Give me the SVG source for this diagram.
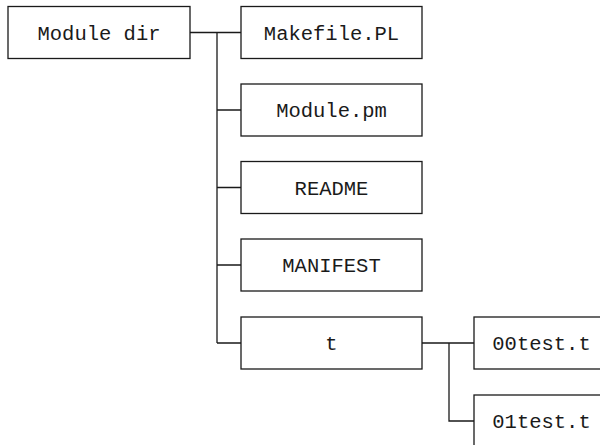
<svg xmlns="http://www.w3.org/2000/svg" width="600" height="445" viewBox="0 0 600 445">
  <style>
    .box { fill: #ffffff; stroke: #1a1a1a; stroke-width: 1.3; }
    .lbl { font-family: "Liberation Mono", "Courier New", monospace; font-size: 20.5px; fill: #1a1a1a; text-anchor: middle; }
    .wire { fill: none; stroke: #1a1a1a; stroke-width: 1.3; }
  </style>
  <rect width="600" height="445" fill="#ffffff"/>

  <!-- connectors -->
  <g id="connectors">
    <path class="wire" d="M190,32.5 H241 M217,32.5 V343 M217,110 H241 M217,187.5 H241 M217,265 H241 M217,343 H241"/>
    <path class="wire" d="M422,343 H474 M449,343 V421 H474"/>
  </g>

  <g id="module-dir">
    <rect class="box" x="8" y="6.5" width="182" height="52"/>
    <text class="lbl" x="99" y="39.5">Module dir</text>
  </g>
  <g id="makefile-pl">
    <rect class="box" x="241" y="6.5" width="181" height="52"/>
    <text class="lbl" x="331.5" y="39.5">Makefile.PL</text>
  </g>
  <g id="module-pm">
    <rect class="box" x="241" y="84" width="181" height="52"/>
    <text class="lbl" x="331.5" y="117">Module.pm</text>
  </g>
  <g id="readme">
    <rect class="box" x="241" y="161.5" width="181" height="52"/>
    <text class="lbl" x="331.5" y="194.5">README</text>
  </g>
  <g id="manifest">
    <rect class="box" x="241" y="239" width="181" height="52"/>
    <text class="lbl" x="331.5" y="272">MANIFEST</text>
  </g>
  <g id="t-dir">
    <rect class="box" x="241" y="317" width="181" height="52"/>
    <text class="lbl" x="331.5" y="350">t</text>
  </g>
  <g id="test-00">
    <rect class="box" x="474" y="317" width="136" height="52"/>
    <text class="lbl" x="541.5" y="350">00test.t</text>
  </g>
  <g id="test-01">
    <rect class="box" x="474" y="395" width="136" height="52"/>
    <text class="lbl" x="541.5" y="428">01test.t</text>
  </g>
</svg>
